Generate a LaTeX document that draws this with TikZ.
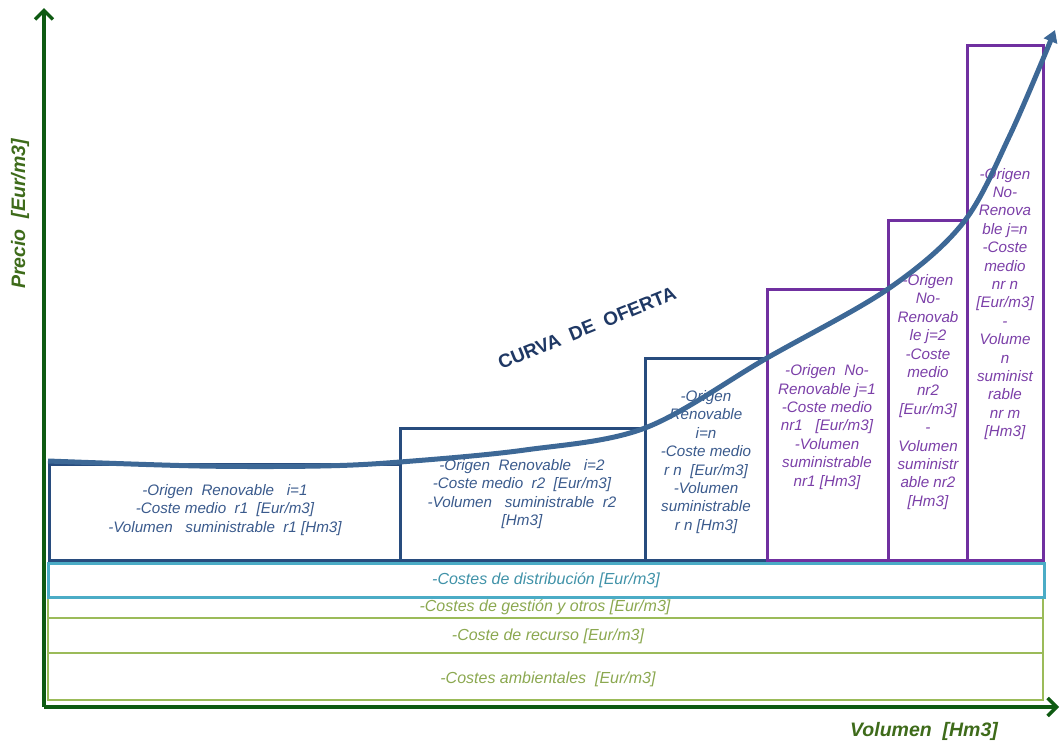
\documentclass[tikz,border=0pt]{standalone}
\usepackage{fontspec}
\setmainfont{Liberation Sans}
\usetikzlibrary{arrows.meta}
\definecolor{axisgreen}{HTML}{0E5A12}
\definecolor{labelgreen}{HTML}{3E6B1A}
\definecolor{barblue}{HTML}{284C7E}
\definecolor{curveblue}{HTML}{3D6896}
\definecolor{textblue}{HTML}{3A5A8C}
\definecolor{barpurple}{HTML}{7030A0}
\definecolor{textpurple}{HTML}{7B3FA8}
\definecolor{stripcyan}{HTML}{4BACC6}
\definecolor{stripgreen}{HTML}{9BBB59}
\definecolor{titleblue}{HTML}{1F3864}
\tikzset{
  renbar/.style={draw=barblue, line width=3pt},
  nrbar/.style={draw=barpurple, line width=3pt},
  cyanstrip/.style={draw=stripcyan, line width=3pt},
  greenstrip/.style={draw=stripgreen, line width=2.5pt},
  bartext/.style={font=\fontsize{15.2}{18.4}\selectfont\itshape, align=center, inner sep=0pt},
  rentext/.style={bartext, text=textblue},
  nrtext/.style={bartext, text=textpurple},
  striptext/.style={font=\fontsize{16}{18}\selectfont\itshape, inner sep=0pt},
  axisline/.style={draw=axisgreen, line width=4pt, -{Straight Barb[length=9pt,width=18pt,line width=3.5pt]}},
  axislabel/.style={font=\fontsize{19.5}{22}\selectfont\bfseries\itshape, text=labelgreen, inner sep=0pt}
}
\begin{document}
\begin{tikzpicture}[x=1pt,y=-1pt]
\useasboundingbox (0,0) rectangle (1061,742);
% strips
\draw[greenstrip] (48,653) rectangle (1043,700);
\draw[greenstrip] (48,618) rectangle (1043,653);
\draw[greenstrip] (48,597) rectangle (1043,618);
\draw[cyanstrip] (48,563) rectangle (1044,597);
\node[striptext, text=stripcyan!85!black] (sdist) at (546,580) {-Costes de distribución [Eur/m3]};
\node[striptext, text=stripgreen!90!black] (sgest) at (545,607) {-Costes de gestión y otros [Eur/m3]};
\node[striptext, text=stripgreen!90!black] (srec) at (548,636) {-Coste de recurso [Eur/m3]};
\node[striptext, text=stripgreen!90!black] (samb) at (548,679) {-Costes ambientales\ \ [Eur/m3]};
% bars
\draw[renbar] (49,560) rectangle (400,464);
\draw[renbar] (400,560) rectangle (645,428);
\draw[renbar] (645,560) rectangle (767,358);
\draw[nrbar] (767,560) rectangle (888,289);
\draw[nrbar] (888,560) rectangle (967,220);
\draw[nrbar] (967,560) rectangle (1043,45);
% bar texts
\node[rentext] (t1) at (225,510) {-Origen\ \ Renovable\ \ \ i=1\\-Coste medio\ \ r1\ \ [Eur/m3]\\-Volumen\ \ \ suministrable\ \ r1 [Hm3]};
\node[rentext] (t2) at (522,494) {-Origen\ \ Renovable\ \ \ i=2\\-Coste medio\ \ r2\ \ [Eur/m3]\\-Volumen\ \ \ suministrable\ \ r2\\{}[Hm3]};
\node[rentext] (t3) at (706,462) {-Origen\\Renovable\\i=n\\-Coste medio\\r n\ \ [Eur/m3]\\-Volumen\\suministrable\\r n [Hm3]};
\node[nrtext] (t4) at (827,427) {-Origen\ \ No-\\Renovable\ j=1\\-Coste medio\\nr1\ \ \ [Eur/m3]\\-Volumen\\suministrable\\nr1 [Hm3]};
\node[nrtext] (t5) at (928,392) {-Origen\\No-\\Renovab\\le j=2\\-Coste\\medio\\nr2\\{}[Eur/m3]\\-\\Volumen\\suministr\\able nr2\\{}[Hm3]};
\node[nrtext] (t6) at (1005,304) {-Origen\\No-\\Renova\\ble j=n\\-Coste\\medio\\nr n\\{}[Eur/m3]\\-\\Volume\\n\\suminist\\rable\\nr m\\{}[Hm3]};
% supply curve
\coordinate (c0) at (48,461);
\coordinate (c1) at (200,466);
\coordinate (c2) at (320,466);
\coordinate (c3) at (400,462);
\coordinate (c4) at (525,450);
\coordinate (c5) at (645,428);
\coordinate (c6) at (767,358);
\coordinate (c7) at (888,289);
\coordinate (c8) at (963,223);
\coordinate (c9) at (1010,135);
\coordinate (c10) at (1055,30);
\draw[curveblue, line width=5pt, -{Triangle[length=12pt,width=14pt]}] plot[smooth, tension=0.55] coordinates {(c0) (c1) (c2) (c3) (c4) (c5) (c6) (c7) (c8) (c9) (c10)};
\node[font=\fontsize{19}{22}\selectfont\bfseries, text=titleblue, rotate=22, inner sep=0pt] (curvelabel) at (587,328) {CURVA\ \ DE\ \ OFERTA};
% axes
\coordinate (origin) at (44,707);
\coordinate (ytop) at (44,8);
\coordinate (xend) at (1059,707);
\draw[axisline] (origin) -- (ytop);
\draw[axisline] (origin) -- (xend);
\node[axislabel, rotate=90] (ylabel) at (20,214) {Precio\ \ [Eur/m3]};
\node[axislabel] (xlabel) at (924,731) {Volumen\ \ [Hm3]};
\end{tikzpicture}
\end{document}
